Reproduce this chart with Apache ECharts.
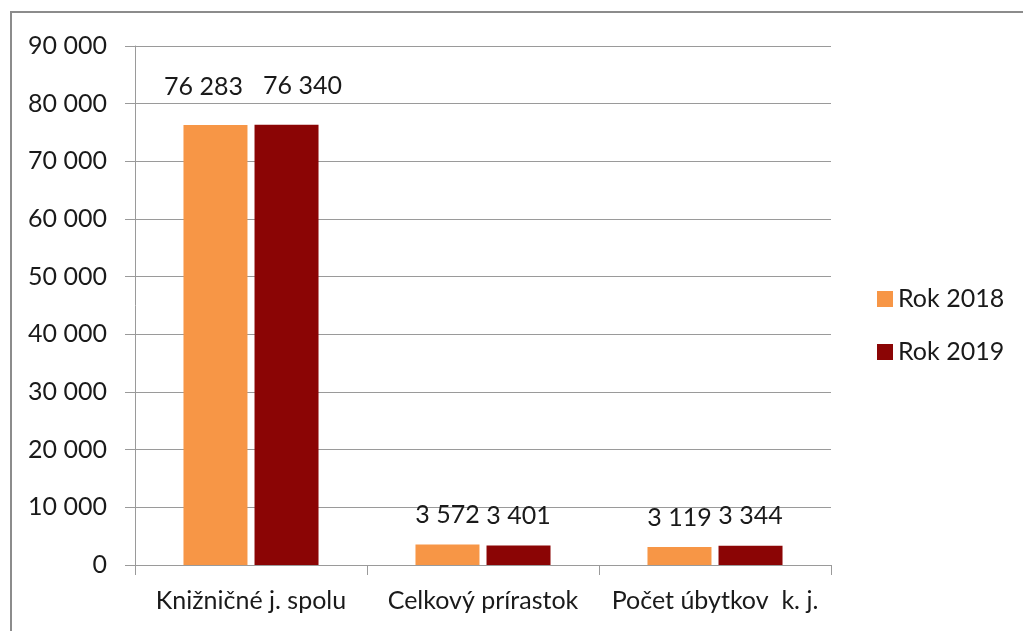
<!DOCTYPE html>
<html>
<head>
<meta charset="utf-8">
<script src="https://cdn.jsdelivr.net/npm/echarts@6/dist/echarts.min.js"></script>
<style>
  html, body { margin: 0; padding: 0; background: #fff; }
  #chart { width: 1023px; height: 631px; }
</style>
</head>
<body>
<div id="chart"></div>
<script>
// data
const categories = ['Knižničné j. spolu', 'Celkový prírastok', 'Počet úbytkov  k. j.'];
const seriesNames = ['Rok 2018', 'Rok 2019'];
const values2018 = [76283, 3572, 3119];
const values2019 = [76340, 3401, 3344];
const yTicks = [0, 10000, 20000, 30000, 40000, 50000, 60000, 70000, 80000, 90000];

const colors = ['#F79646', '#8B0505'];
const font = 'Lato, "Open Sans", sans-serif';
const fontSize = 25;

// "76 283" style thousands separator
function fmt(v) {
  return String(v).replace(/\B(?=(\d{3})+(?!\d))/g, ' ');
}

// first category labels sit further out in the original (tall bars)
const firstLabelOffset = [[-12, -9], [16, -9]];

function buildData(values, idx) {
  return values.map((v, i) => {
    if (i !== 0) return v;
    return { value: v, label: { offset: firstLabelOffset[idx] } };
  });
}

const chart = echarts.init(document.getElementById('chart'));

const option = {
  animation: false,
  color: colors,
  textStyle: { fontFamily: font },
  graphic: [{
    type: 'rect',
    shape: { x: 11, y: 12, width: 1100, height: 700 },
    style: { fill: 'none', stroke: '#8c8c8c', lineWidth: 2 },
    silent: true
  }],
  grid: {
    left: 135,
    right: 192,
    top: 46,
    bottom: 66
  },
  legend: {
    orient: 'vertical',
    left: 877,
    top: 285,
    padding: 0,
    itemWidth: 16,
    itemHeight: 16,
    itemGap: 25,
    itemTextGap: 6,
    itemStyle: { borderWidth: 0 },
    textStyle: { fontFamily: font, fontSize: fontSize, color: '#1a1a1a', lineHeight: 28 },
    icon: 'rect',
    data: seriesNames
  },
  xAxis: {
    type: 'category',
    data: categories,
    axisLine: { lineStyle: { color: '#9a9a9a', width: 1 } },
    axisTick: { show: true, length: 10, lineStyle: { color: '#9a9a9a' } },
    axisLabel: {
      margin: 23,
      fontFamily: font,
      fontSize: fontSize,
      color: '#1a1a1a',
      interval: 0
    }
  },
  yAxis: {
    type: 'value',
    min: 0,
    max: 90000,
    interval: 10000,
    axisLine: { show: true, lineStyle: { color: '#9a9a9a', width: 1 } },
    axisTick: { show: true, length: 10, lineStyle: { color: '#9a9a9a' } },
    splitLine: { lineStyle: { color: '#9a9a9a', width: 1 } },
    axisLabel: {
      margin: 28,
      fontFamily: font,
      fontSize: fontSize,
      color: '#1a1a1a',
      formatter: v => yTicks.includes(v) ? fmt(v) : ''
    }
  },
  series: [values2018, values2019].map((vals, idx) => ({
    name: seriesNames[idx],
    type: 'bar',
    data: buildData(vals, idx),
    barWidth: 64,
    barGap: '11%',
    itemStyle: { color: colors[idx] },
    label: {
      show: true,
      position: 'top',
      distance: 17,
      fontFamily: font,
      fontSize: fontSize,
      color: '#1a1a1a',
      formatter: p => fmt(p.value)
    }
  }))
};

chart.setOption(option);
</script>
</body>
</html>
